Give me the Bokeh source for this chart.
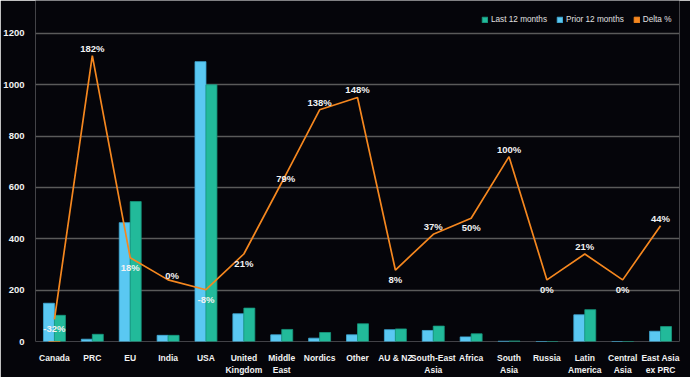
from bokeh.plotting import figure
from bokeh.models import (ColumnDataSource, FactorRange, Range1d, Legend, LegendItem,
                          FixedTicker)
from bokeh.transform import dodge
from bokeh.core.properties import value
from bokeh.embed import file_html
from bokeh.resources import INLINE

# ---- data ----
categories = ["Canada", "PRC", "EU", "India", "USA", "United\nKingdom", "Middle\nEast",
              "Nordics", "Other", "AU & NZ", "South-East\nAsia", "Africa", "South\nAsia",
              "Russia", "Latin\nAmerica", "Central\nAsia", "East Asia\nex PRC"]
prior_12 = [149, 9, 463, 24, 1090, 108, 26, 13, 26, 46, 43, 18, 1, 0, 104, 0, 40]
last_12 = [102, 28, 545, 24, 1000, 130, 47, 35, 69, 49, 60, 30, 2, 0, 124, 0, 58]
delta_pct = [-32, 182, 18, 0, -8, 21, 79, 138, 148, 8, 37, 50, 100, 0, 21, 0, 44]
y_ticks = [0, 200, 400, 600, 800, 1000, 1200]

# label placement style (above / below / mid)
label_pos = ["below", "above", "below", "mid", "below", "below", "mid", "above", "above",
             "below", "above", "below", "above", "below", "above", "below", "above"]

BG = "#05050A"
BLUE = "#5AC8F2"
GREEN = "#22BA9A"
ORANGE = "#F5871F"
FONT = "Liberation Sans"

# value axis: 0..1200 occupies the plotted grid, headroom above for the legend
Y_TOP = 1200 * 342 / 309
D_MIN, D_SPAN = -50, 250          # delta axis: -50% at 0, +200% at 1200
D_TOP = D_MIN + D_SPAN * Y_TOP / 1200

src = ColumnDataSource(dict(cat=categories, prior=prior_12, last=last_12,
                            delta=delta_pct))

p = figure(x_range=FactorRange(factors=categories), y_range=Range1d(0, Y_TOP),
           width=690, height=377, output_backend="svg", toolbar_location=None,
           min_border_left=30, min_border_right=11, min_border_top=0,
           min_border_bottom=35, background_fill_color=BG, border_fill_color=BG,
           outline_line_color=None)
p.x_range.range_padding = 0
p.extra_y_ranges = {"delta": Range1d(D_MIN, D_TOP)}

r_prior = p.vbar(x=dodge("cat", -0.145, range=p.x_range), top="prior", width=0.29,
                 source=src, fill_color=BLUE, line_color="#3FA9D6", line_width=0.8)
r_last = p.vbar(x=dodge("cat", 0.145, range=p.x_range), top="last", width=0.29,
                source=src, fill_color=GREEN, line_color="#17987E", line_width=0.8)
r_line = p.line(x="cat", y="delta", source=src, y_range_name="delta",
                line_color=ORANGE, line_width=1.7)
# square swatch for the legend only (kept below the visible range)
r_sq = p.vbar(x=[categories[0]], bottom=[-Y_TOP], top=[-Y_TOP / 2], width=0.3,
              fill_color=ORANGE, line_color=ORANGE)

for pos, base, yoff, xoff in [("above", "bottom", -2, 0), ("below", "top", 4, 0),
                              ("mid", "middle", -4, 4)]:
    idx = [i for i, s in enumerate(label_pos) if s == pos]
    sub = ColumnDataSource(dict(cat=[categories[i] for i in idx],
                                delta=[delta_pct[i] for i in idx],
                                label=[f"{delta_pct[i]}%" for i in idx]))
    p.text(x="cat", y="delta", text="label", source=sub, y_range_name="delta",
           text_align="center", text_baseline=base, y_offset=yoff, x_offset=xoff,
           text_color="#F2F2F2", text_font=value(FONT), text_font_size="9.5px",
           text_font_style="bold")

# axes
p.yaxis.ticker = FixedTicker(ticks=y_ticks)
p.yaxis.axis_line_color = None
p.yaxis.major_tick_line_color = None
p.yaxis.minor_tick_line_color = None
p.yaxis.major_label_text_color = "#F2F2F2"
p.yaxis.major_label_text_font = FONT
p.yaxis.major_label_text_font_size = "9.5px"
p.yaxis.major_label_text_font_style = "bold"
p.yaxis.major_label_standoff = 5

p.xaxis.axis_line_color = None
p.xaxis.major_tick_line_color = None
p.xaxis.minor_tick_line_color = None
p.xaxis.major_label_text_color = "#F2F2F2"
p.xaxis.major_label_text_font = FONT
p.xaxis.major_label_text_font_size = "8.5px"
p.xaxis.major_label_text_font_style = "bold"
p.xaxis.major_label_standoff = 5

p.xgrid.grid_line_color = None
p.ygrid.grid_line_color = "#5A5A5A"
p.ygrid.grid_line_width = 1.5

legend = Legend(items=[LegendItem(label="Last 12 months", renderers=[r_last]),
                       LegendItem(label="Prior 12 months", renderers=[r_prior]),
                       LegendItem(label="Delta %", renderers=[r_sq])],
                orientation="horizontal", location=(446, 317),
                background_fill_alpha=0, border_line_color=None,
                label_text_color="#E0E0E0", label_text_font=FONT,
                label_text_font_size="8.2px", glyph_width=7, glyph_height=7,
                label_standoff=3, spacing=9, padding=0, margin=0,
                label_height=10, label_text_baseline="middle")
p.add_layout(legend, "center")

open("out.html", "w").write(file_html(p, INLINE))
